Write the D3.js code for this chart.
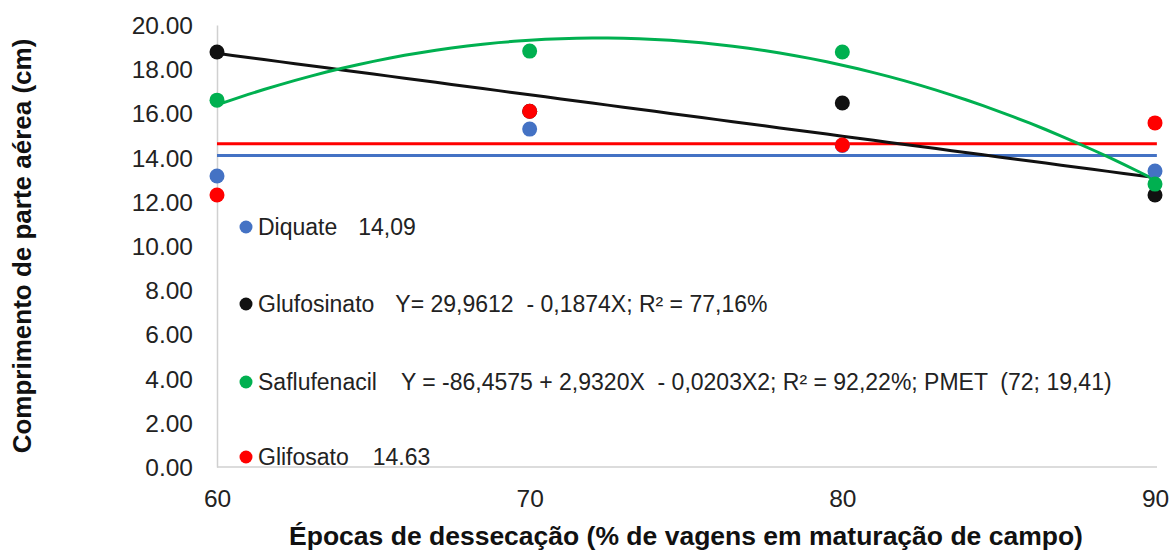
<!DOCTYPE html>
<html>
<head>
<meta charset="utf-8">
<script src="https://cdn.jsdelivr.net/npm/d3@7"></script>
<style>
  body { margin: 0; background: #fff; }
  text { font-family: "Liberation Sans", Arial, sans-serif; }
</style>
</head>
<body>
<div class="chart"></div>
<script>
// epochs (% of pods at field maturity)
const epocas = [60, 70, 80, 90]
const yTicks = [0, 2, 4, 6, 8, 10, 12, 14, 16, 18, 20]

// observed values per herbicide
const diquate = [13.17, 15.29, 14.55, 13.39]
const glufosinato = [18.78, 16.10, 16.47, 12.31]
const saflufenacil = [16.60, 18.82, 18.78, 12.80]
const glifosato = [12.31, 16.10, 14.57, 15.57]

// fitted models from the legend
const diquateMean = 14.09
const glifosatoMean = 14.63
const glufCoef = [29.9612, -0.1874]
const saflCoef = [-86.4575, 2.9320, -0.0203]

const legendNames = ['Diquate', 'Glufosinato', 'Saflufenacil', 'Glifosato']
const legendStats = [
    '14,09',
    'Y= 29,9612  - 0,1874X; R² = 77,16%',
    'Y = -86,4575 + 2,9320X  - 0,0203X2; R² = 92,22%; PMET  (72; 19,41)',
    '14.63'
]
const colors = ['#4472c4', '#111111', '#00b050', '#ff0000']

const width = 1173
const height = 551
const svg = d3.select('.chart').append('svg').attr('width', width).attr('height', height)

const x = d3.scaleLinear().domain([60, 90]).range([217, 1155])
const y = d3.scaleLinear().domain([0, 20]).range([467, 25])

// axes
const xAxis = svg.append('g').attr('transform', 'translate(0,467)')
    .call(d3.axisBottom(x).tickValues(epocas).tickSize(0).tickPadding(23))
xAxis.select('.domain').attr('stroke', '#d0d0d0').attr('stroke-width', 1.5)
    .attr('d', 'M217,0H1157')
xAxis.selectAll('text').attr('font-size', 24.5).attr('fill', '#222')
    .style('font-family', '"Liberation Sans", Arial, sans-serif')

const yAxis = svg.append('g').attr('transform', 'translate(217,0)')
    .call(d3.axisLeft(y).tickValues(yTicks).tickFormat(d3.format('.2f')).tickSize(0).tickPadding(24))
yAxis.select('.domain').attr('stroke', '#d0d0d0').attr('stroke-width', 1.5)
yAxis.selectAll('text').attr('font-size', 24.5).attr('fill', '#222').attr('dy', '0.35em')
    .style('font-family', '"Liberation Sans", Arial, sans-serif')

// fitted lines
const xs = d3.range(60, 90.01, 0.5)
const line = d3.line().x(d => x(d[0])).y(d => y(d[1]))

svg.append('path')
    .attr('d', line([[60, diquateMean], [90.06, diquateMean]]))
    .attr('stroke', colors[0]).attr('stroke-width', 3).attr('fill', 'none')
svg.append('path')
    .attr('d', line([[60, glifosatoMean], [90.06, glifosatoMean]]))
    .attr('stroke', colors[3]).attr('stroke-width', 3).attr('fill', 'none')
svg.append('path')
    .attr('d', line(xs.map(v => [v, glufCoef[0] + glufCoef[1] * v])))
    .attr('stroke', colors[1]).attr('stroke-width', 3).attr('fill', 'none')
svg.append('path')
    .attr('d', line(xs.map(v => [v, saflCoef[0] + saflCoef[1] * v + saflCoef[2] * v * v])))
    .attr('stroke', colors[2]).attr('stroke-width', 3).attr('fill', 'none')

// points
const series = [diquate, glufosinato, saflufenacil, glifosato]
series.forEach((s, i) => {
    svg.selectAll('circle.s' + i)
        .data(s)
        .enter()
        .append('circle')
        .attr('class', 's' + i)
        .attr('cx', (d, j) => x(epocas[j]))
        .attr('cy', d => y(d))
        .attr('r', 7.5)
        .attr('fill', colors[i])
})

// legend
const legendY = [227, 304, 382, 457]
const legend = svg.selectAll('g.legend')
    .data(legendNames)
    .enter()
    .append('g')
    .attr('class', 'legend')
    .attr('transform', (d, i) => 'translate(246,' + legendY[i] + ')')
legend.append('circle').attr('r', 6.5).attr('fill', (d, i) => colors[i])
const lt = legend.append('text')
    .attr('x', 12)
    .attr('dy', '0.35em')
    .attr('font-size', 23)
    .attr('fill', '#222')
    .style('white-space', 'pre')
lt.append('tspan').text(d => d)
lt.append('tspan').attr('dx', (d, i) => i < 2 ? 21 : 24).text((d, i) => legendStats[i])

// axis titles
svg.append('text')
    .attr('x', 686).attr('y', 544.5)
    .attr('text-anchor', 'middle')
    .attr('font-size', 26.5).attr('font-weight', 'bold').attr('fill', '#111')
    .text('Épocas de dessecação (% de vagens em maturação de campo)')
svg.append('text')
    .attr('transform', 'translate(31,246) rotate(-90)')
    .attr('text-anchor', 'middle')
    .attr('font-size', 26).attr('font-weight', 'bold').attr('fill', '#111')
    .text('Comprimento de parte aérea (cm)')
</script>
</body>
</html>
